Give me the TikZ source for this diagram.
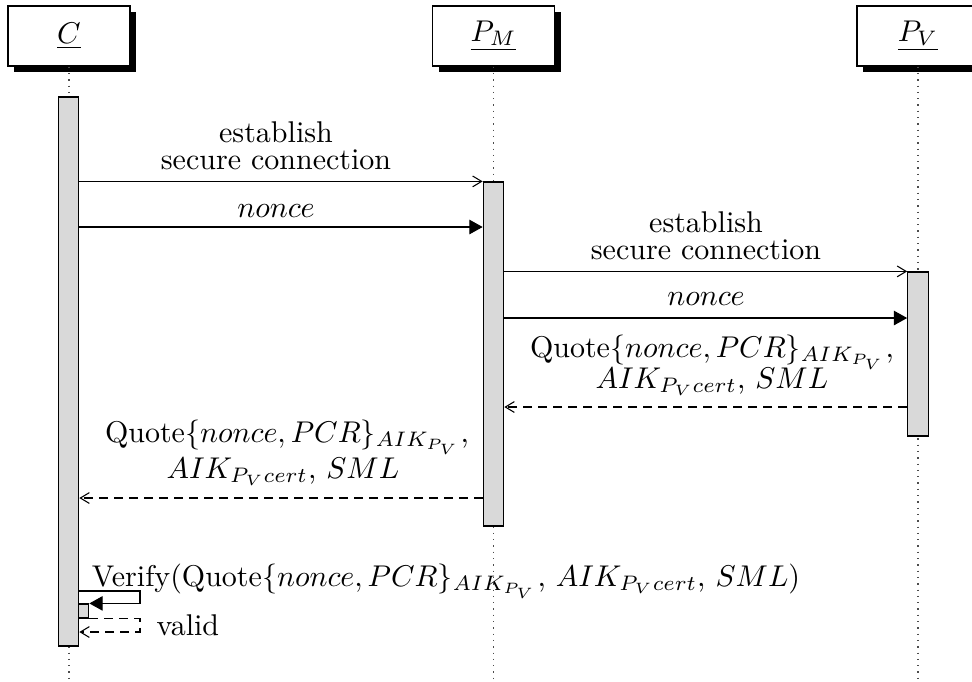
\documentclass[tikz,border=0pt]{standalone}
\usetikzlibrary{arrows.meta,shadows}
\begin{document}
\begin{tikzpicture}[x=0.33333pt,y=-0.33333pt,
  hdr/.style={draw, fill=white, minimum width=40.67pt, minimum height=20pt, inner sep=0pt,
    drop shadow={opacity=1, fill=black, shadow xshift=2pt, shadow yshift=-2pt}},
  act/.style={draw, fill=gray!30, minimum width=6.83pt, inner sep=0pt},
  lifeline/.style={black!70, dash pattern=on 0.45pt off 1.65pt},
  msg/.style={line width=0.35pt},
  callarr/.style={msg, -{Triangle[length=4.4pt,width=4.8pt]}},
  openarr/.style={msg, -{Straight Barb[length=3pt,width=3.6pt]}},
  retarr/.style={openarr, dash pattern=on 3pt off 2pt},
  lbl/.style={anchor=base, inner sep=0pt}
]
\useasboundingbox (0,0) rectangle (972,681);
% instances
\node[hdr] (C) at (69,36) {$\underline{C}$};
\node[hdr] (PM) at (493.5,36) {$\underline{P_M}$};
\node[hdr] (PV) at (918,36) {$\underline{P_V}$};
% lifelines
\coordinate (bot) at (0,681);
\draw[lifeline] (C.south) -- (C.south |- bot);
\draw[lifeline] (PM.south) -- (PM.south |- bot);
\draw[lifeline] (PV.south) -- (PV.south |- bot);
% activations
\node[act, minimum height=183pt] (aC) at (68.5,371.5) {};
\node[act, minimum height=114.67pt] (aM) at (493.5,354) {};
\node[act, minimum height=54.67pt] (aV) at (918,354) {};
\node[act, minimum width=3.33pt, minimum height=4.67pt] (aS) at (83.75,611) {};
% messages
\coordinate (y2) at (0,227);
\coordinate (y4) at (0,318);
\coordinate (y5) at (0,407);
\coordinate (y6) at (0,498);
\draw[openarr] (aC.east |- aM.north) -- (aM.north west);
\draw[callarr] (aC.east |- y2) -- (aM.west |- y2);
\draw[openarr] (aM.east |- aV.north) -- (aV.north west);
\draw[callarr] (aM.east |- y4) -- (aV.west |- y4);
\draw[retarr] (aV.west |- y5) -- (aM.east |- y5);
\draw[retarr] (aM.west |- y6) -- (aC.east |- y6);
% self call
\coordinate (s1) at (140,591);
\coordinate (s2) at (140,632);
\draw[callarr] (aC.east |- s1) -- (s1) |- (aS.north east);
\draw[retarr] (aS.south east) -| (s2) -- (aC.east |- s2);
% labels
\node[lbl] (l1a) at (276,142) {establish};
\node[lbl] (l1b) at (276,169) {secure connection};
\node[lbl] (l2) at (276,217) {$nonce$};
\node[lbl] (l3a) at (706,232) {establish};
\node[lbl] (l3b) at (706,259) {secure connection};
\node[lbl] (l4) at (706,305) {$nonce$};
\node[lbl] (l5a) at (712,357) {$\mathrm{Quote}\{nonce, PCR\}_{AIK_{P_V}}$,};
\node[lbl] (l5b) at (712,388) {$AIK_{P_V cert}$, $SML$};
\node[lbl] (l6a) at (287,442) {$\mathrm{Quote}\{nonce, PCR\}_{AIK_{P_V}}$,};
\node[lbl] (l6b) at (283,478) {$AIK_{P_V cert}$, $SML$};
\node[lbl] (l7) at (446,586) {Verify($\mathrm{Quote}\{nonce, PCR\}_{AIK_{P_V}}$, $AIK_{P_V cert}$, $SML$)};
\node[lbl, anchor=base west] (l8) at (156,635) {valid};
\end{tikzpicture}
\end{document}
